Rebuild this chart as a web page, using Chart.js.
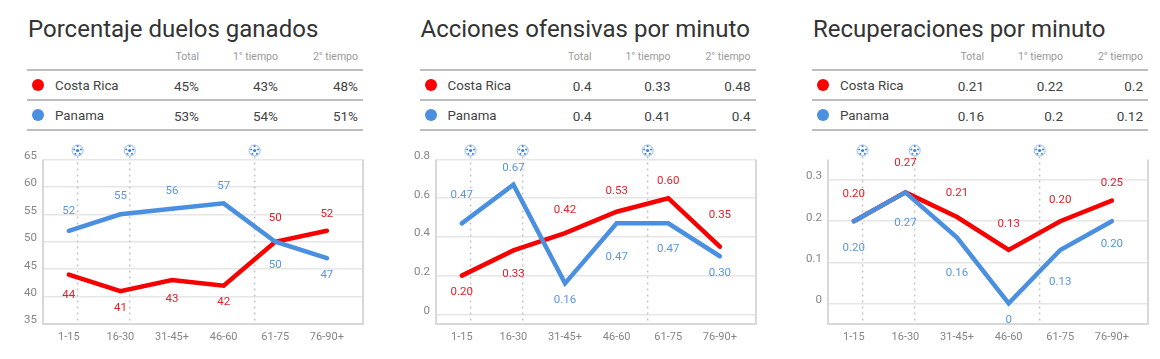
<!DOCTYPE html>
<html><head><meta charset="utf-8">
<script src="https://cdn.jsdelivr.net/npm/chart.js@4"></script>
<style>
html,body{margin:0;padding:0;background:#fff;width:1160px;height:359px;overflow:hidden;font-family:Roboto,sans-serif}
.p{position:absolute;top:0;width:390px;height:359px}
.p canvas{position:absolute;left:0;top:130px}
.t{position:absolute;left:28px;top:14px;font-size:24px;line-height:30px;color:#333;white-space:nowrap}
.r{position:absolute;left:27px;width:336px;height:2px;background:#bdbdbd}
.c{position:absolute;width:100px;text-align:right;white-space:nowrap}
.h{font-size:10.5px;color:#999;top:50px;line-height:14px}
.v{font-size:13.5px;color:#444;line-height:16px}
.n{position:absolute;left:55px;font-size:13.3px;color:#444;line-height:16px}
.d{position:absolute;left:32px;width:12px;height:12px;border-radius:50%}
</style></head><body>
<script>
const categories=["1-15","16-30","31-45+","46-60","61-75","76-90+"];
const columns=["Total","1° tiempo","2° tiempo"];
const teams=["Costa Rica","Panama"];
const goalMarks=[0.17,1.18,3.6];

const titleA="Porcentaje duelos ganados";
const summaryA=[["45%","43%","48%"],["53%","54%","51%"]];
const redA=[44,41,43,42,50,52];
const blueA=[52,55,56,57,50,47];
const ticksA=[35,40,45,50,55,60,65];

const titleB="Acciones ofensivas por minuto";
const summaryB=[["0.4","0.33","0.48"],["0.4","0.41","0.4"]];
const redB=[0.20,0.33,0.42,0.53,0.60,0.35];
const blueB=[0.47,0.67,0.16,0.47,0.47,0.30];
const ticksB=[0,0.2,0.4,0.6,0.8];

const titleC="Recuperaciones por minuto";
const summaryC=[["0.21","0.22","0.2"],["0.16","0.2","0.12"]];
const redC=[0.20,0.27,0.21,0.13,0.20,0.25];
const blueC=[0.20,0.27,0.16,0,0.13,0.20];
const ticksC=[0,0.1,0.2,0.3];

const RED="#f60000",BLUE="#4a8fe0",REDT="#e0202a",BLUET="#5a96dc";

const panels=[
 {left:0,title:titleA,sum:summaryA,red:redA,blue:blueA,ticks:ticksA,min:35,max:65,fmt:v=>String(v),
  nr:[20,17,18.5,17,-24,-17],nb:[-20,-18,-18,-17.5,23,17]},
 {left:392.5,title:titleB,sum:summaryB,red:redB,blue:blueB,ticks:ticksB,min:-0.05,max:0.8,fmt:v=>v===0?"0":v.toFixed(2),
  nr:[17,24,-23,-21,-17.5,-31],nb:[-28,-17,17,34,26,17]},
 {left:785,title:titleC,sum:summaryC,red:redC,blue:blueC,ticks:ticksC,min:-0.05,max:0.35,fmt:v=>v===0?"0":v.toFixed(2),
  nr:[-27,-29,-24,-26,-21,-17.5],nb:[26.5,31,35,17,32,23]}
];

function ball(ctx,x,y){
 ctx.save();
 ctx.beginPath();ctx.arc(x,y,5.5,0,Math.PI*2);ctx.fillStyle="#fff";ctx.fill();
 ctx.lineWidth=1;ctx.strokeStyle="#8db6e8";ctx.stroke();
 ctx.fillStyle="#3f7fd6";
 ctx.beginPath();ctx.arc(x,y,1.6,0,Math.PI*2);ctx.fill();
 [[-3.4,-1],[3.4,-1],[-2.2,3.2],[2.2,3.2],[0,-4.2]].forEach(o=>{ctx.beginPath();ctx.arc(x+o[0],y+o[1],1,0,Math.PI*2);ctx.fill();});
 ctx.restore();
}

const overlay=p=>({id:"overlay",
 beforeDatasetsDraw(ch){
  const {ctx,chartArea:a,scales:{x}}=ch;
  ctx.save();
  ctx.strokeStyle="#d8d8d8";ctx.lineWidth=2;
  ctx.beginPath();ctx.moveTo(a.left,a.top);ctx.lineTo(a.left,a.bottom);ctx.lineTo(a.right,a.bottom);ctx.lineTo(a.right,a.top);ctx.stroke();
  ctx.strokeStyle="#c4c4c4";ctx.lineWidth=1.5;ctx.setLineDash([2,4]);
  goalMarks.forEach(g=>{const px=x.getPixelForValue(g);ctx.beginPath();ctx.moveTo(px,a.top-3);ctx.lineTo(px,a.bottom);ctx.stroke();});
  ctx.restore();
 },
 afterDatasetsDraw(ch){
  const {ctx,chartArea:a,scales:{x,y}}=ch;
  goalMarks.forEach(g=>ball(ctx,x.getPixelForValue(g),a.top-9));
  ctx.save();
  ctx.font="11.5px Roboto";ctx.textAlign="center";ctx.textBaseline="middle";
  ch.data.datasets.forEach(ds=>{
   ctx.fillStyle=ds.labelColor;
   ds.data.forEach((pt,i)=>{ctx.fillText(p.fmt(pt.y),x.getPixelForValue(pt.x),y.getPixelForValue(pt.y)+ds.nudge[i]);});
  });
  ctx.restore();
 }
});

const el=(tag,cls,txt,parent,css)=>{const e=document.createElement(tag);e.className=cls;if(txt!=null)e.textContent=txt;if(css)e.style.cssText=css;parent.appendChild(e);return e;};
const rightEdges=[199,278,358];

panels.forEach(p=>{
 const d=el("div","p",null,document.body,"left:"+p.left+"px");
 el("div","t",p.title,d);
 [69,99,129].forEach(t=>el("div","r",null,d,"top:"+t+"px"));
 columns.forEach((c,i)=>el("div","c h",c,d,"left:"+(rightEdges[i]-100)+"px"));
 teams.forEach((t,r)=>{
  const top=77+r*30;
  el("div","d",null,d,"top:"+(top+2)+"px;background:"+(r?BLUE:"#ff0000"));
  el("div","n",t,d,"top:"+(top+1)+"px");
  p.sum[r].forEach((v,i)=>el("div","c v",v,d,"top:"+(top+1)+"px;left:"+(rightEdges[i]-100)+"px"));
 });
 const cv=el("canvas","",null,d);cv.width=390;cv.height=229;
 new Chart(cv,{
  type:"line",
  data:{datasets:[
   {label:teams[1],values:p.blue,borderColor:BLUE,labelColor:BLUET,nudge:p.nb},
   {label:teams[0],values:p.red,borderColor:RED,labelColor:REDT,nudge:p.nr}
  ].map(ds=>Object.assign(ds,{data:ds.values.map((v,i)=>({x:i,y:v})),borderWidth:4.5,pointRadius:0,tension:0,fill:false,borderCapStyle:"round",borderJoinStyle:"miter",clip:false}))},
  plugins:[overlay(p)],
  options:{
   responsive:false,animation:false,devicePixelRatio:1,
   layout:{padding:{top:29.5,right:27,left:0,bottom:0}},
   plugins:{legend:{display:false},tooltip:{enabled:false}},
   scales:{
    x:{type:"linear",min:-0.5,max:5.7,
     afterBuildTicks:s=>{s.ticks=categories.map((_,i)=>({value:i}));},
     afterFit:s=>{s.height=35;},
     grid:{display:false,drawTicks:false},border:{display:false},
     ticks:{autoSkip:false,maxRotation:0,padding:7,color:"#858585",font:{family:"Roboto",size:11},callback:v=>categories[v]}},
    y:{type:"linear",min:p.min,max:p.max,
     afterBuildTicks:s=>{s.ticks=p.ticks.map(v=>({value:v}));},
     afterFit:s=>{s.width=43;},
     grid:{color:"#e6e6e6",lineWidth:1.5,drawTicks:false},border:{display:false},
     ticks:{padding:6,labelOffset:-3.5,color:"#858585",font:{family:"Roboto",size:11.5},callback:v=>String(v)}}
   }
  }
 });
});
</script>
</body></html>
